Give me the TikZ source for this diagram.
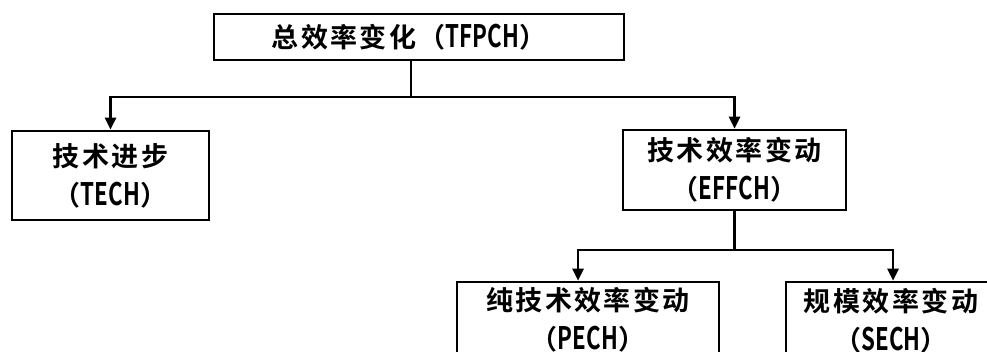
\documentclass[tikz,border=0pt]{standalone}
\usepackage{fontspec}
\setmainfont{Noto Sans CJK SC Bold}
\newfontfamily\cjkb[LetterSpace=9]{Noto Sans CJK SC Bold}
\newfontfamily\latb[FakeStretch=0.72]{Noto Sans CJK SC Bold}
\newcommand{\lt}[1]{{\latb\fontsize{31}{39}\selectfont #1}}
\usetikzlibrary{arrows.meta}
\begin{document}
\begin{tikzpicture}[x=1pt,y=-1pt,
  boxnode/.style={draw=black, line width=2.6pt, inner sep=0pt, align=center,
    font=\cjkb\fontsize{27}{39}\selectfont},
  conn/.style={line width=2.6pt},
  arr/.style={conn, -{Triangle[width=11pt,length=12pt]}}]
\useasboundingbox (0,0) rectangle (987,351);
\fill[white] (0,0) rectangle (987,351);
\clip (0,0) rectangle (987,351);
\node[boxnode, minimum width=410pt, minimum height=46pt] (top) at (419,37) {总效率变化（\lt{TFPCH}）\hspace*{20pt}};
\node[boxnode, minimum width=197pt, minimum height=89pt] (tech) at (110.5,175.5) {技术进步\\（\lt{TECH}）};
\node[boxnode, minimum width=223pt, minimum height=80pt] (effch) at (734.5,170) {技术效率变动\\（\lt{EFFCH}）};
\node[boxnode, minimum width=262pt, minimum height=76pt] (pech) at (588,320) {纯技术效率变动\\（\lt{PECH}）};
\node[boxnode, minimum width=210pt, minimum height=78pt] (sech) at (891,321) {规模效率变动\\（\lt{SECH}）};
\coordinate (j1) at (411,97);
\coordinate (j2) at (734.5,250);
\coordinate (pa) at (578,280);
\coordinate (sa) at (893,280);
\draw[conn] (top.south -| j1) -- (j1);
\draw[arr] (j1) -| (tech.north);
\draw[arr] (j1) -| (effch.north);
\draw[conn] (effch.south) -- (j2);
\draw[arr] (j2) -| (pech.north -| pa);
\draw[arr] (j2) -| (sech.north -| sa);
\end{tikzpicture}
\end{document}
